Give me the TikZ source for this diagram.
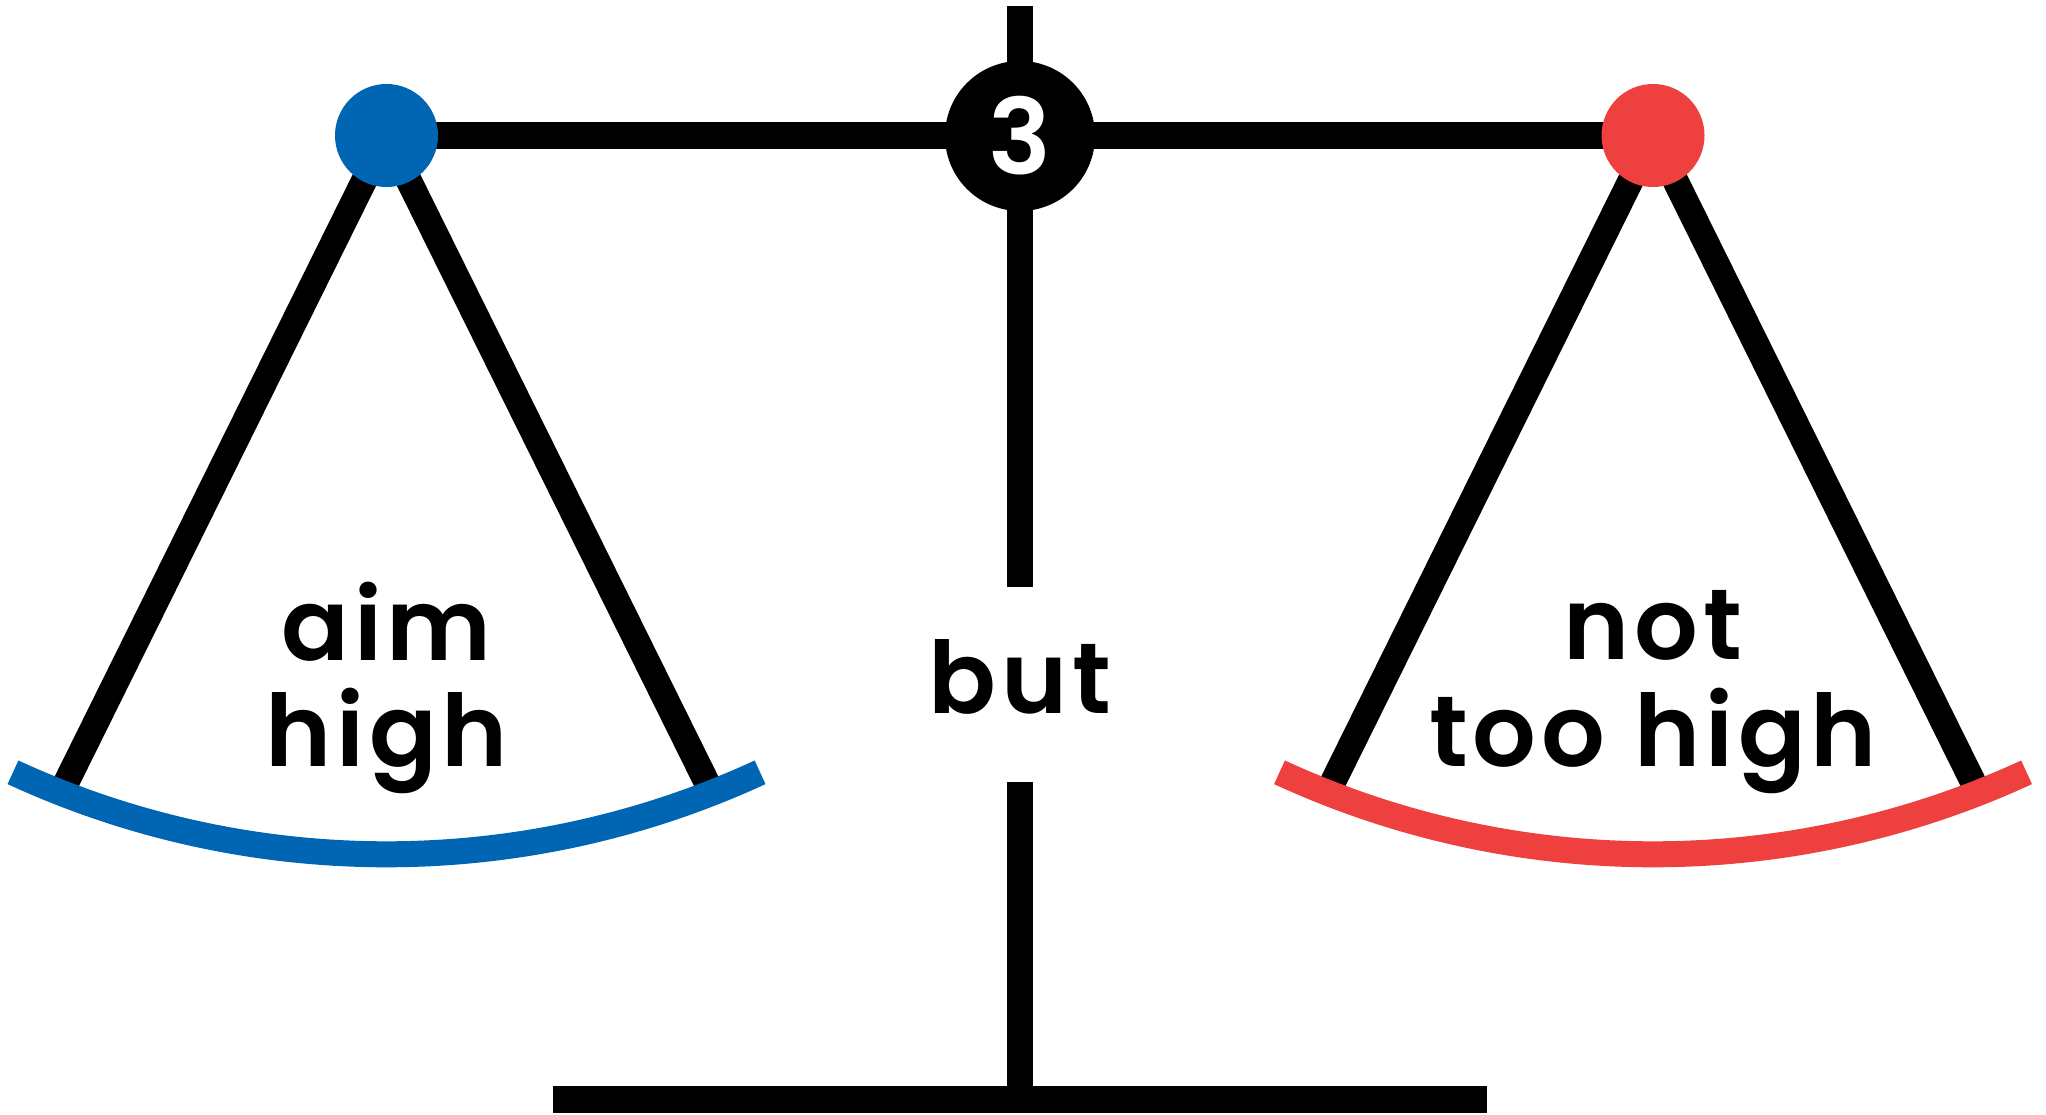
\documentclass[tikz,border=0pt]{standalone}
\usepackage{fontspec}
\usetikzlibrary{backgrounds}
\newfontfamily\labelfont{Poppins}[BoldFont={Poppins SemiBold}]
\newfontfamily\wordfont{Poppins}[BoldFont={Poppins SemiBold},LetterSpace=5]
\definecolor{panblue}{RGB}{0,101,179}
\definecolor{panred}{RGB}{239,64,64}
\begin{document}
\begin{tikzpicture}[x=1pt,y=-1pt,
  bar/.style={line width=26.5pt},
  chain/.style={line width=26pt},
  dish/.style={line width=26pt},
  pan/.style={circle, inner sep=0pt, minimum size=103pt},
  word/.style={font=\wordfont\bfseries\fontsize{100}{106}\selectfont, anchor=base, inner sep=0pt}]
\useasboundingbox (0,0) rectangle (2046,1115);

% pivot and pan hooks
\node[pan, fill=panblue] (lpan) at (386.5,135.5) {};
\node[pan, fill=panred] (rpan) at (1653,135.5) {};
\node[circle, fill=black, inner sep=0pt, minimum size=150pt, text=white,
      font=\labelfont\bfseries\fontsize{105}{110}\selectfont] (hub) at (1020,136) {3};

% stand
\coordinate (poletop) at (1020,6);
\coordinate (polemid) at (1020,587);
\coordinate (polelow) at (1020,782);
\coordinate (foot) at (1020,1099.5);
\coordinate (footL) at (553,1099.5);
\coordinate (footR) at (1487,1099.5);

% ends of the chains, hidden under the dishes
\coordinate (lchainL) at (60,795);
\coordinate (lchainR) at (713,795);
\coordinate (rchainL) at (1326.5,795);
\coordinate (rchainR) at (1979.5,795);

% dish start points
\coordinate (ldish) at (13,772.3);
\coordinate (rdish) at (1279.5,772.3);

\begin{scope}[on background layer]
  \draw[bar] (poletop) -- (polemid);
  \draw[bar] (lpan.center) -- (rpan.center);
  \draw[chain] (lpan.center) -- (lchainL);
  \draw[chain] (lpan.center) -- (lchainR);
  \draw[chain] (rpan.center) -- (rchainL);
  \draw[chain] (rpan.center) -- (rchainR);
\end{scope}

\draw[bar] (polelow) -- (foot);
\draw[bar] (footL) -- (footR);

% dishes
\draw[dish, panblue] (ldish) arc[start angle=114.77, end angle=65.23, radius=891.6];
\draw[dish, panred] (rdish) arc[start angle=114.77, end angle=65.23, radius=891.6];

% labels
\node[word] (aimtxt) at (386.5,660) {aim};
\node[word] (hightxt) at (386.5,766) {high};
\node[word] (buttxt) at (1020,713) {but};
\node[word] (nottxt) at (1653,659) {not};
\node[word] (toohightxt) at (1653,766) {too high};
\end{tikzpicture}
\end{document}
